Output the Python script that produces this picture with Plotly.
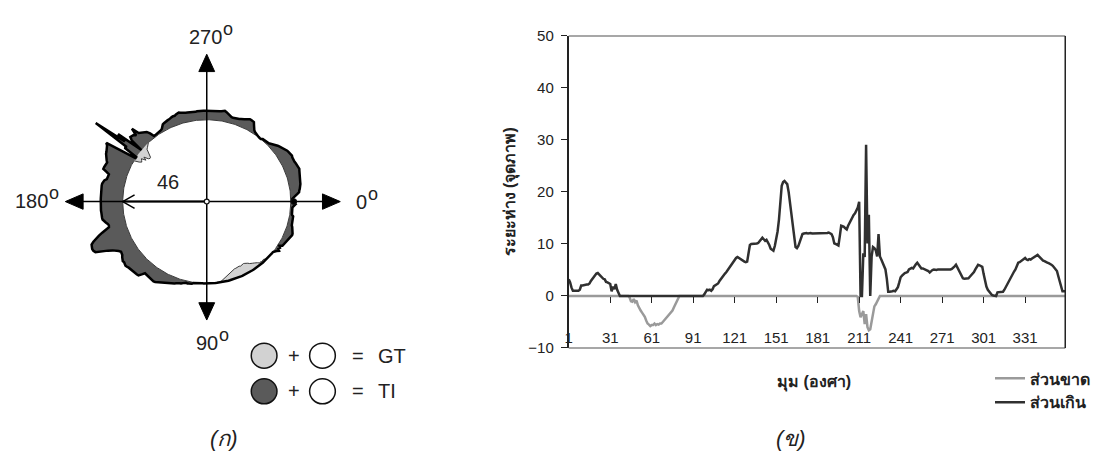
import math
import plotly.graph_objects as go

W, H = 1095, 459

# ---- data -----------------------------------------------------------------
angles = list(range(1, 361))

# distance outside the reference circle, per degree (pixels)
excess = [
    3.2, 2.6, 1.6, 1.0, 1.0, 1.0, 1.1, 1.0, 1.2, 2.0,
    2.0, 2.1, 2.1, 2.2, 2.2, 2.4, 2.9, 3.3, 3.6, 4.0,
    4.3, 4.4, 4.1, 3.8, 3.7, 3.3, 3.2, 2.7, 2.6, 2.4,
    2.3, 0.9, 1.8, 1.3, 2.3, 1.2, 0.6, 0, 0, 0,
    0, 0, 0, 0, 0, 0, 0, 0, 0, 0,
    0, 0, 0, 0, 0, 0, 0, 0, 0, 0,
    0, 0, 0, 0, 0, 0, 0, 0, 0, 0,
    0, 0, 0, 0, 0, 0, 0, 0, 0, 0,
    0, 0, 0, 0, 0, 0, 0, 0, 0, 0,
    0, 0, 0, 0, 0, 0, 0, 0, 0.3, 0.9,
    1.2, 1.1, 1.2, 1.0, 1.3, 1.9, 2.1, 2.2, 2.4, 2.9,
    3.3, 3.6, 3.9, 4.3, 4.6, 5.0, 5.2, 5.6, 6.0, 6.4,
    6.8, 7.3, 7.5, 7.3, 7.1, 7.0, 6.7, 6.6, 6.5, 6.6,
    8.2, 9.8, 10.0, 10.0, 10.1, 10.0, 10.1, 10.2, 10.6, 11.0,
    11.2, 10.9, 10.6, 10.8, 10.4, 9.8, 9.1, 8.8, 8.7, 9.6,
    10.7, 12.4, 14.7, 18.2, 21.2, 21.9, 22.1, 21.8, 21.5, 20.0,
    18.1, 16.0, 13.8, 11.5, 9.4, 9.2, 9.6, 10.5, 11.3, 11.9,
    12.0, 12.1, 12.1, 12.0, 12.1, 12.1, 12.0, 12.0, 12.1, 12.0,
    12.0, 12.0, 12.0, 12.1, 12.1, 12.0, 12.1, 12.1, 12.2, 12.1,
    11.9, 11.3, 10.1, 10.0, 9.8, 9.7, 11.5, 13.5, 13.4, 13.3,
    13.0, 12.8, 13.5, 14.1, 14.7, 15.3, 15.6, 15.9, 16.4, 17.0,
    18.1, 0, 0, 8.2, 7.5, 29.1, 10.1, 15.6, 0, 7.6,
    9.4, 9.2, 8.8, 7.6, 11.9, 7.6, 7.0, 6.4, 5.8, 5.1,
    3.3, 0.8, 0.8, 0.8, 0.9, 1.0, 0.9, 1.3, 1.7, 2.6,
    3.6, 3.9, 4.2, 4.4, 4.5, 4.6, 5.1, 5.2, 5.4, 5.3,
    5.8, 6.1, 6.4, 6.0, 5.6, 5.3, 5.3, 5.2, 5.1, 5.0,
    4.8, 4.5, 4.8, 5.0, 5.1, 5.0, 5.0, 5.1, 5.1, 5.0,
    5.0, 5.1, 5.1, 5.0, 5.1, 5.1, 5.1, 5.2, 5.4, 5.7,
    6.0, 5.5, 4.8, 4.3, 3.8, 3.4, 3.3, 3.3, 3.3, 3.4,
    3.7, 4.0, 4.2, 4.6, 5.1, 5.5, 6.0, 5.9, 5.7, 5.6,
    4.2, 2.7, 1.8, 1.2, 0.8, 0.5, 0.2, 0.1, 0, 0,
    0.7, 0.7, 0.7, 0.7, 0.8, 1.2, 1.7, 2.3, 3.0, 3.5,
    3.9, 4.3, 4.7, 5.1, 5.8, 6.4, 6.5, 6.7, 6.9, 7.1,
    7.3, 7.0, 6.9, 7.1, 7.0, 7.2, 7.4, 7.5, 7.7, 7.9,
    7.6, 7.3, 7.0, 6.8, 6.7, 6.5, 6.4, 6.3, 6.2, 6.0,
    5.8, 5.4, 5.0, 4.8, 3.8, 2.7, 1.6, 0.9, 0.9, 0.9,
]

# distance inside the reference circle, per degree (pixels, negative)
deficit = [
    0, 0, 0, 0, 0, 0, 0, 0, 0, 0, 0, 0, 0, 0, 0, 0, 0, 0, 0, 0,
    0, 0, 0, 0, 0, 0, 0, 0, 0, 0, 0, 0, 0, 0, 0, 0, 0, 0, 0, 0,
    0, 0, 0, 0, -0.3, -1.0, -1.1, -0.6, -1.2, -0.9,
    -1.8, -2.5, -2.8, -3.2, -3.5, -4.0, -4.7, -5.3, -5.5, -5.8,
    -5.6, -5.6, -5.3, -5.6, -5.4, -5.5, -5.3, -5.3, -5.0, -4.7,
    -4.4, -4.0, -3.6, -3.3, -3.1, -2.8, -2.2, -1.6, -1.0, -0.5,
    0, 0, 0, 0, 0, 0, 0, 0, 0, 0, 0, 0, 0, 0, 0, 0, 0, 0, 0, 0,
    0, 0, 0, 0, 0, 0, 0, 0, 0, 0, 0, 0, 0, 0, 0, 0, 0, 0, 0, 0,
    0, 0, 0, 0, 0, 0, 0, 0, 0, 0, 0, 0, 0, 0, 0, 0, 0, 0, 0, 0,
    0, 0, 0, 0, 0, 0, 0, 0, 0, 0, 0, 0, 0, 0, 0, 0, 0, 0, 0, 0,
    0, 0, 0, 0, 0, 0, 0, 0, 0, 0, 0, 0, 0, 0, 0, 0, 0, 0, 0, 0,
    0, 0, 0, 0, 0, 0, 0, 0, 0, 0, 0, 0, 0, 0, 0, 0, 0, 0, 0, 0,
    0, 0, 0, 0, 0, 0, 0, 0, 0, -0.2,
    -2.9, -4.1, -3.5, -2.9, -5.4, -3.5, -6.0, -6.6, -6.4, -4.8,
    -2.9, -2.0, -1.6, -1.0, -0.4, 0, 0, 0, 0, 0,
    0, 0, 0, 0, 0, 0, 0, 0, 0, 0, 0, 0, 0, 0, 0, 0, 0, 0, 0, 0,
    0, 0, 0, 0, 0, 0, 0, 0, 0, 0, 0, 0, 0, 0, 0, 0, 0, 0, 0, 0,
    0, 0, 0, 0, 0, 0, 0, 0, 0, 0, 0, 0, 0, 0, 0, 0, 0, 0, 0, 0,
    0, 0, 0, 0, 0, 0, 0, 0, 0, 0, 0, 0, 0, 0, 0, 0, 0, 0, 0, 0,
    0, 0, 0, 0, 0, 0, 0, 0, 0, 0, 0, 0, 0, 0, 0, 0, 0, 0, 0, 0,
    0, 0, 0, 0, 0, 0, 0, 0, 0, 0, 0, 0, 0, 0, 0, 0, 0, 0, 0, 0,
    0, 0, 0, 0, 0, 0, 0, 0, 0, 0,
]

gt_radius = 46
series_names = ["ส่วนขาด", "ส่วนเกิน"]
x_ticks = [1, 31, 61, 91, 121, 151, 181, 211, 241, 271, 301, 331]
y_ticks = [-10, 0, 10, 20, 30, 40, 50]
compass_labels = ["0", "90", "180", "270"]
legend_rows = ["GT", "TI"]
x_title = "มุม (องศา)"
y_title = "ระยะห่าง (จุดภาพ)"
panel_tags = ["(ก)", "(ข)"]

# ---- helpers --------------------------------------------------------------
FONT = "Liberation Sans, Arial, sans-serif"
INK = "#222222"
DARK_FILL = "#5a5a5a"
LIGHT_FILL = "#d2d2d2"


def px(x):
    return x / W


def py(y):
    return 1 - y / H


def tri(p1, p2, p3):
    pts = [p1, p2, p3]
    d = "M " + " L ".join(f"{px(a)},{py(b)}" for a, b in pts) + " Z"
    return dict(type="path", xref="paper", yref="paper", path=d,
                fillcolor="black", line=dict(color="black", width=1))


def seg(x0, y0, x1, y1, width=1.5, color="black"):
    return dict(type="line", xref="paper", yref="paper",
                x0=px(x0), y0=py(y0), x1=px(x1), y1=py(y1),
                line=dict(color=color, width=width))


def ring(cx, cy, r, fill, width=1.5):
    return dict(type="circle", xref="paper", yref="paper",
                x0=px(cx - r), x1=px(cx + r), y0=py(cy + r), y1=py(cy - r),
                fillcolor=fill, line=dict(color="#111111", width=width))


def polar_xy(radii):
    xs = [r * math.cos(math.radians(a)) for r, a in zip(radii, angles)]
    ys = [-r * math.sin(math.radians(a)) for r, a in zip(radii, angles)]
    return xs + xs[:1], ys + ys[:1]


fig = go.Figure()

# ---- left: boundary diagram ----------------------------------------------
S = 85 / gt_radius          # screen pixels per object pixel
CX, CY = 205, 200           # diagram centre on the page
LEFT_W = 416

outer_x, outer_y = polar_xy([gt_radius + e for e in excess])
circ_x, circ_y = polar_xy([gt_radius for _ in angles])
inner_x, inner_y = polar_xy([gt_radius + d for d in deficit])

fig.add_trace(go.Scatter(x=outer_x, y=outer_y, xaxis="x2", yaxis="y2",
                         mode="lines", fill="toself", fillcolor=DARK_FILL,
                         line=dict(width=0), hoverinfo="skip", showlegend=False))
fig.add_trace(go.Scatter(x=circ_x, y=circ_y, xaxis="x2", yaxis="y2",
                         mode="lines", fill="toself", fillcolor=LIGHT_FILL,
                         line=dict(width=0), hoverinfo="skip", showlegend=False))
fig.add_trace(go.Scatter(x=inner_x, y=inner_y, xaxis="x2", yaxis="y2",
                         mode="lines", fill="toself", fillcolor="white",
                         line=dict(color="#3a3a3a", width=1),
                         hoverinfo="skip", showlegend=False))
fig.add_trace(go.Scatter(x=outer_x, y=outer_y, xaxis="x2", yaxis="y2",
                         mode="lines", line=dict(color="black", width=2.5),
                         hoverinfo="skip", showlegend=False))

shapes = []
# compass cross with arrowheads
shapes.append(seg(70, CY, 332, CY))
shapes.append(seg(CX, 56, CX, 314))
shapes.append(tri((62, CY), (80, CY - 8), (80, CY + 8)))
shapes.append(tri((340, CY), (322, CY - 8), (322, CY + 8)))
shapes.append(tri((CX, 47), (CX - 8, 65), (CX + 8, 65)))
shapes.append(tri((CX, 323), (CX - 8, 305), (CX + 8, 305)))
# radius marker
edge = CX - gt_radius * S
shapes.append(seg(edge, CY, CX, CY, width=2))
shapes.append(seg(edge + 12, CY - 7, edge, CY, width=1.5))
shapes.append(seg(edge, CY, edge + 12, CY + 7, width=1.5))
shapes.append(ring(CX, CY, 2.5, "white", width=1.2))
shapes.append(ring(CX + gt_radius * S + 3, CY, 3, "black", width=1))

# key: filled region + reference circle
for row, fill in zip((360, 397), (LIGHT_FILL, DARK_FILL)):
    shapes.append(ring(263, row, 13, fill))
    shapes.append(ring(322, row, 13, "white"))

annotations = []


def note(text, x, y, size=20, xanchor="center", style="normal",
         weight="normal", angle=0):
    annotations.append(dict(
        text=text, x=px(x), y=py(y), textangle=angle,
        xref="paper", yref="paper", xanchor=xanchor, yanchor="middle",
        showarrow=False,
        font=dict(family=FONT, size=size, color=INK, style=style,
                  weight=weight)))


# compass labels, each with a raised degree ring
for lab, (x, y) in zip(compass_labels,
                       [(361, 200), (205, 347), (28, 199), (204, 29)]):
    note(lab, x, y)
    ring_x = x + len(lab) * 5.6 + 6
    note("o", ring_x, y - 8, size=18)

note(str(gt_radius), 166, 180)
for row, lab in zip((360, 397), legend_rows):
    note("+", 293, row)
    note("=", 358, row)
    note(lab, 376, row, xanchor="left")
note(panel_tags[0], 222, 446, size=22, style="italic")

# ---- right: distance profile ---------------------------------------------
fig.add_trace(go.Scatter(x=angles, y=deficit, name=series_names[0],
                         mode="lines", line=dict(color="#9a9a9a", width=2.5)))
fig.add_trace(go.Scatter(x=angles, y=excess, name=series_names[1],
                         mode="lines", line=dict(color="#303030", width=2.5)))

Y_LO, Y_HI = y_ticks[0], y_ticks[-1]
ydom = [py(352), py(28)]
zero_pos = ydom[0] + (0 - Y_LO) / (Y_HI - Y_LO) * (ydom[1] - ydom[0])

# frame of the plotting area
shapes.append(dict(type="line", xref="x domain", yref="y domain",
                   x0=0, x1=1, y0=1, y1=1, line=dict(color="#8a8a8a", width=1.5)))
shapes.append(dict(type="line", xref="x domain", yref="y domain",
                   x0=0, x1=1, y0=0, y1=0, line=dict(color="#8a8a8a", width=1.5)))
shapes.append(dict(type="line", xref="x domain", yref="y domain",
                   x0=1, x1=1, y0=0, y1=1, line=dict(color="#222222", width=1.5)))

note(y_title, 513, 190, size=16, weight="bold", angle=-90)
note(x_title, 819, 388, size=16, weight="bold")
note(panel_tags[1], 796, 446, size=22, style="italic")

fig.update_layout(
    width=W, height=H, autosize=False,
    margin=dict(l=0, r=0, t=0, b=0),
    paper_bgcolor="white", plot_bgcolor="rgba(0,0,0,0)",
    font=dict(family=FONT, color=INK),
    xaxis=dict(domain=[px(571), px(1073)], range=[1, 360],
               anchor="free", position=zero_pos,
               tickmode="array", tickvals=x_ticks,
               ticks="outside", ticklen=6, tickwidth=1.2, tickcolor=INK,
               ticklabelstandoff=22,
               showline=False, showgrid=False, zeroline=False,
               tickfont=dict(family=FONT, size=15, color=INK)),
    yaxis=dict(domain=ydom, range=[Y_LO, Y_HI],
               tickmode="array", tickvals=y_ticks,
               ticks="outside", ticklen=6, tickwidth=1.2, tickcolor=INK,
               ticklabelstandoff=4,
               showline=True, linecolor=INK, linewidth=2,
               showgrid=False, zeroline=False,
               tickfont=dict(family=FONT, size=15, color=INK)),
    xaxis2=dict(domain=[0, px(LEFT_W)], anchor="y2",
                range=[-CX / S, (LEFT_W - CX) / S],
                visible=False, showgrid=False, zeroline=False),
    yaxis2=dict(domain=[0, 1], anchor="x2",
                range=[-(H - CY) / S, CY / S],
                visible=False, showgrid=False, zeroline=False),
    legend=dict(x=px(997), y=py(366), xanchor="left", yanchor="top",
                bgcolor="rgba(0,0,0,0)", tracegroupgap=0,
                font=dict(family=FONT, size=16, color=INK, weight="bold")),
    shapes=shapes,
    annotations=annotations,
    showlegend=True,
)

fig.write_html("out.html")
